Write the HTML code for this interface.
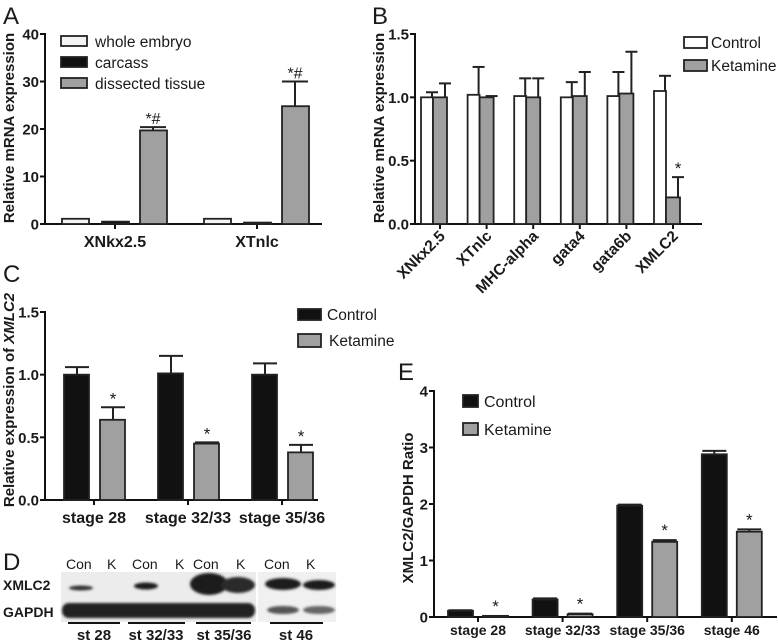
<!DOCTYPE html>
<html><head><meta charset="utf-8"><style>
html,body{margin:0;padding:0;background:#fff}
svg{display:block}
text{font-family:"Liberation Sans",sans-serif;fill:#1a1a1a}
.b{font-weight:bold}
</style></head><body>
<svg id="fig" width="778" height="641" viewBox="0 0 778 641" xmlns="http://www.w3.org/2000/svg">
<defs>
<filter id="bl2" x="-20%" y="-50%" width="140%" height="200%"><feGaussianBlur stdDeviation="1.2"/></filter>
</defs>
<text x="3" y="24" font-size="24">A</text>
<text x="372" y="24" font-size="24">B</text>
<text x="3" y="282" font-size="24">C</text>
<text x="3" y="570" font-size="24">D</text>
<text x="398" y="380" font-size="24">E</text>

<text class="b" font-size="15" transform="translate(14,128) rotate(-90)" text-anchor="middle">Relative mRNA expression</text>
<text class="b" font-size="15" transform="translate(384,128) rotate(-90)" text-anchor="middle">Relative mRNA expression</text>
<text class="b" font-size="15" transform="translate(14,400) rotate(-90)" text-anchor="middle">Relative expression of <tspan font-style="italic">XMLC2</tspan></text>
<text class="b" font-size="15" transform="translate(413,508) rotate(-90)" text-anchor="middle">XMLC2/GAPDH Ratio</text>

<g id="A"></g>
<g id="B"></g>
<g id="C"></g>
<g id="E"></g>

<g>
<rect x="61" y="36" width="26" height="10" fill="#f4f4f4" stroke="#222" stroke-width="1.8"/><text x="95" y="47" font-size="15.5" fill="#444">whole embryo</text>
<rect x="61" y="57" width="26" height="10" fill="#111" stroke="#222" stroke-width="1.8"/><text x="95" y="68" font-size="15.5" fill="#444">carcass</text>
<rect x="61" y="78" width="26" height="10" fill="#a0a0a0" stroke="#222" stroke-width="1.8"/><text x="95" y="89" font-size="15.5" fill="#444">dissected tissue</text>
</g>
<g>
<rect x="684" y="37" width="23" height="11" fill="#fff" stroke="#222" stroke-width="1.8"/><text x="711" y="48" font-size="15.5">Control</text>
<rect x="684" y="60" width="23" height="11" fill="#a0a0a0" stroke="#222" stroke-width="1.8"/><text x="711" y="71" font-size="15.5">Ketamine</text>
</g>
<g>
<rect x="298" y="309" width="23" height="11" fill="#111" stroke="#222" stroke-width="1.8"/><text x="327" y="320" font-size="15.5">Control</text>
<rect x="298" y="334" width="23" height="13" fill="#a0a0a0" stroke="#222" stroke-width="1.8"/><text x="329" y="346" font-size="15.5">Ketamine</text>
</g>
<g>
<rect x="463" y="395" width="15" height="12" fill="#111" stroke="#222" stroke-width="1.8"/><text x="484" y="407" font-size="16">Control</text>
<rect x="463" y="423" width="15" height="12" fill="#a0a0a0" stroke="#222" stroke-width="1.8"/><text x="484" y="435" font-size="16">Ketamine</text>
</g>

<g>
<g font-size="14" fill="#222">
<text x="66" y="569">Con</text><text x="107" y="569">K</text>
<text x="132" y="569">Con</text><text x="175" y="569">K</text>
<text x="193" y="569">Con</text><text x="236" y="569">K</text>
<text x="264" y="569">Con</text><text x="306" y="569">K</text>
</g>
<text class="b" x="3" y="590" font-size="14">XMLC2</text>
<text class="b" x="3" y="617" font-size="14">GAPDH</text>
<rect x="61" y="572" width="195" height="50" fill="#ececec"/>
<rect x="258" y="572" width="78" height="50" fill="#f0f0f0"/>
<g filter="url(#bl2)" fill="#1a1a1a">
<ellipse cx="81" cy="588" rx="12" ry="2.5" fill="#333"/>
<ellipse cx="146" cy="586" rx="12" ry="3.5"/>
<ellipse cx="209" cy="584" rx="19" ry="11"/>
<ellipse cx="238" cy="585" rx="17" ry="8" fill="#2a2a2a"/>
<ellipse cx="283" cy="584" rx="18" ry="6"/>
<ellipse cx="319" cy="585" rx="16" ry="5"/>
<rect x="62" y="603" width="193" height="15" rx="7" fill="#222"/>
<ellipse cx="283" cy="610" rx="16" ry="4" fill="#555"/>
<ellipse cx="319" cy="610" rx="16" ry="4" fill="#666"/>
</g>
<g stroke="#111" stroke-width="2">
<line x1="68" y1="623" x2="120" y2="623"/><line x1="128" y1="623" x2="185" y2="623"/>
<line x1="196" y1="623" x2="251" y2="623"/><line x1="270" y1="623" x2="323" y2="623"/>
</g>
<g class="b" font-size="15" text-anchor="middle">
<text x="94" y="640">st 28</text><text x="156" y="640">st 32/33</text><text x="224" y="640">st 35/36</text><text x="296" y="640">st 46</text>
</g>
</g>
</svg>
<script>
// ---- Panel A data ----
const aCategories = ["XNkx2.5", "XTnlc"];
const aWhole = [1.1, 1.1];
const aCarcass = [0.5, 0.3];
const aDissected = [19.7, 24.8];
const aDissectedErr = [20.4, 30.0];
const aTicks = ["0", "10", "20", "30", "40"];
// ---- Panel B data ----
const bCategories = ["XNkx2.5", "XTnlc", "MHC-alpha", "gata4", "gata6b", "XMLC2"];
const bControl = [1.0, 1.02, 1.01, 1.0, 1.01, 1.05];
const bControlErr = [1.04, 1.24, 1.15, 1.12, 1.2, 1.17];
const bKetamine = [1.0, 1.0, 1.0, 1.01, 1.03, 0.21];
const bKetamineErr = [1.11, 1.01, 1.15, 1.2, 1.36, 0.37];
const bTicks = ["0.0", "0.5", "1.0", "1.5"];
// ---- Panel C data ----
const cCategories = ["stage 28", "stage 32/33", "stage 35/36"];
const cControl = [1.0, 1.01, 1.0];
const cControlErr = [1.06, 1.15, 1.09];
const cKetamine = [0.64, 0.45, 0.38];
const cKetamineErr = [0.74, 0.46, 0.44];
const cTicks = ["0.0", "0.5", "1.0", "1.5"];
// ---- Panel E data ----
const eCategories = ["stage 28", "stage 32/33", "stage 35/36", "stage 46"];
const eControl = [0.11, 0.31, 1.97, 2.88];
const eControlErr = [0.12, 0.33, 1.99, 2.94];
const eKetamine = [0.02, 0.05, 1.33, 1.51];
const eKetamineErr = [0.02, 0.06, 1.36, 1.55];
const eTicks = ["0", "1", "2", "3", "4"];

const NS = "http://www.w3.org/2000/svg";
function mk(parent, tag, attrs) {
  const el = document.createElementNS(NS, tag);
  for (const k in attrs) el.setAttribute(k, attrs[k]);
  parent.appendChild(el);
  return el;
}
function drawAxes(g, ax, ticks, cats) {
  const y = v => ax.y0 - (v / ax.max) * (ax.y0 - ax.y1);
  const axisL = mk(g, "line", {x1: ax.x0, y1: ax.y1 - 1, x2: ax.x0, y2: ax.y0, stroke: "#111", "stroke-width": 2});
  
  
  const axisB = mk(g, "line", {x1: ax.x0, y1: ax.y0, x2: ax.xEnd, y2: ax.y0, stroke: "#111", "stroke-width": 2});
  
  
  ticks.forEach((t, i) => {
    const v = ax.max * i / (ticks.length - 1);
    mk(g, "line", {x1: ax.x0 - 5, y1: y(v), x2: ax.x0, y2: y(v), stroke: "#111", "stroke-width": 2});
    const tx = mk(g, "text", {x: ax.x0 - 6, y: y(v) + 5.5, "text-anchor": "end", "font-size": 15, class: "b"});
    tx.textContent = t;
    
    
  });
  cats.forEach((c, i) => {
    const cx = ax.tick(i);
    mk(g, "line", {x1: cx, y1: ax.y0, x2: cx, y2: ax.y0 + 5, stroke: "#111", "stroke-width": 2});
    let tx;
    if (ax.rot) {
      tx = mk(g, "text", {x: 0, y: 0, "text-anchor": "end", "font-size": 15.5, class: "b", transform: `translate(${cx + 6},${ax.y0 + 13}) rotate(-45)`});
    } else {
      tx = mk(g, "text", {x: cx, y: ax.y0 + (ax.ldy || 23), "text-anchor": "middle", "font-size": ax.lfs || 16, class: "b"});
    }
    tx.textContent = c;
    
    
  });
  return y;
}
function bar(g, y, x, w, v, fill, name) {
  const r = mk(g, "rect", {x: x, y: y(v), width: w, height: Math.max(0.5, y(0) - y(v)), fill: fill, stroke: "#222", "stroke-width": 1.8});
  
  
}
function err(g, y, cx, v, top, half) {
  if (top <= v) return;
  mk(g, "line", {x1: cx, y1: y(v), x2: cx, y2: y(top), stroke: "#222", "stroke-width": 2});
  mk(g, "line", {x1: cx - half, y1: y(top), x2: cx + half, y2: y(top), stroke: "#222", "stroke-width": 2});
}
function star(g, x, yy, s, fs) {
  const t = mk(g, "text", {x: x, y: yy, "text-anchor": "middle", "font-size": fs || 17, fill: "#333"});
  t.textContent = s;
  
  
}

// Panel A
(function () {
  const g = document.getElementById("A");
  const ax = {x0: 45, xEnd: 322, y0: 224, y1: 34, max: 40, tick: i => 115 + i * 142};
  const y = drawAxes(g, ax, aTicks, aCategories);
  aCategories.forEach((c, i) => {
    const s = 62 + i * 142;
    bar(g, y, s, 27, aWhole[i], "#f4f4f4", "bar-whole-embryo");
    bar(g, y, s + 40, 27, aCarcass[i], "#111", "bar-carcass");
    bar(g, y, s + 78, 27, aDissected[i], "#a0a0a0", "bar-dissected-tissue");
    err(g, y, s + 91, aDissected[i], aDissectedErr[i], 13);
    star(g, s + 91, y(aDissectedErr[i]) - 3, "*#", 16);
  });
})();
// Panel B
(function () {
  const g = document.getElementById("B");
  const sp = 46.6;
  const ax = {x0: 415, xEnd: 702, y0: 224, y1: 34, max: 1.5, rot: true, tick: i => 440 + i * sp};
  const y = drawAxes(g, ax, bTicks, bCategories);
  bCategories.forEach((c, i) => {
    const s = 421 + i * sp;
    bar(g, y, s, 12, bControl[i], "#fff", "bar-control");
    bar(g, y, s + 12, 14, bKetamine[i], "#a0a0a0", "bar-ketamine");
    err(g, y, s + 11, bControl[i], bControlErr[i], 6);
    err(g, y, s + 24, bKetamine[i], bKetamineErr[i], 6);
  });
  star(g, 421 + 5 * sp + 24, y(bKetamineErr[5]) - 3, "*", 17);
})();
// Panel C
(function () {
  const g = document.getElementById("C");
  const ax = {x0: 45, xEnd: 318, y0: 500, y1: 312, max: 1.5, tick: i => 94 + i * 94};
  const y = drawAxes(g, ax, cTicks, cCategories);
  cCategories.forEach((c, i) => {
    const cx = 94 + i * 94;
    bar(g, y, cx - 30, 25, cControl[i], "#111", "bar-control");
    bar(g, y, cx + 6, 25, cKetamine[i], "#a0a0a0", "bar-ketamine");
    err(g, y, cx - 17, cControl[i], cControlErr[i], 12);
    err(g, y, cx + 19, cKetamine[i], cKetamineErr[i], 12);
    star(g, cx + 19, y(cKetamineErr[i]) - 3, "*", 17);
  });
})();
// Panel E
(function () {
  const g = document.getElementById("E");
  const sp = 84.6;
  const ax = {x0: 434, xEnd: 777, y0: 617, y1: 391, max: 4, lfs: 14, ldy: 18, tick: i => 478 + i * sp};
  const y = drawAxes(g, ax, eTicks, eCategories);
  eCategories.forEach((c, i) => {
    const s = 448 + i * sp;
    bar(g, y, s, 25, eControl[i], "#111", "bar-control");
    bar(g, y, s + 35, 25, eKetamine[i], "#a0a0a0", "bar-ketamine");
    err(g, y, s + 12.5, eControl[i], eControlErr[i], 12);
    err(g, y, s + 47.5, eKetamine[i], eKetamineErr[i], 12);
    star(g, s + 47.5, y(eKetamineErr[i]) - 4, "*", 17);
  });
})();
</script>
</body></html>
